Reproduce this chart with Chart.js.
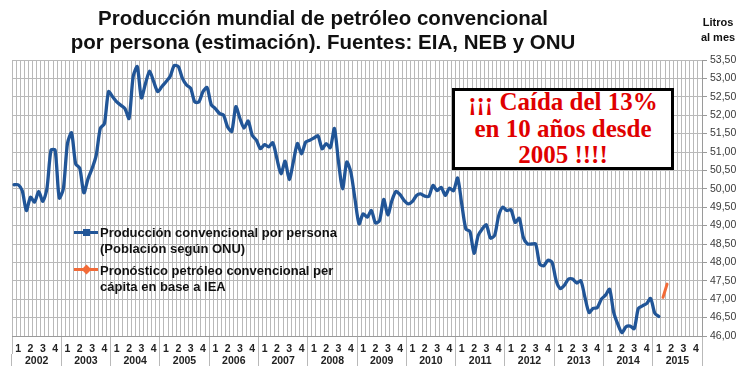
<!DOCTYPE html>
<html>
<head>
<meta charset="utf-8">
<script src="https://cdn.jsdelivr.net/npm/chart.js@4.4.1/dist/chart.umd.min.js"></script>
<style>
  body { margin: 0; background: #fff; }
  #wrap { position: relative; width: 750px; height: 373px; font-family: 'Liberation Sans', Arial, sans-serif; }
  #c { position: absolute; left: 0; top: 0; }
  #title { position: absolute; left: 0; top: 6px; width: 646px; text-align: center; font-weight: bold; font-size: 20.5px; line-height: 24px; color: #111; }
  #unit { position: absolute; left: 690px; top: 15px; width: 56px; text-align: center; font-weight: bold; font-size: 11px; line-height: 15px; color: #111; }
  #note { position: absolute; left: 452px; top: 88px; width: 222px; height: 82px; box-sizing: border-box; border: 3px solid #000; background: #fff;
          display: flex; align-items: center; justify-content: center; text-align: center;
          font-family: 'Liberation Serif', 'Times New Roman', serif; font-weight: bold; font-size: 25px; line-height: 26.5px; color: #e00000; }
  .lg { position: absolute; left: 100px; font-weight: bold; font-size: 13px; line-height: 15.6px; color: #111; white-space: nowrap; }
  .lgline { position: absolute; left: 74px; width: 24px; height: 3px; }
  .lgmark { position: absolute; width: 7px; height: 7px; }
</style>
</head>
<body>
<div id="wrap">
  <canvas id="c" width="750" height="373"></canvas>
  <div id="title">Producción mundial de petróleo convencional<br>por persona (estimación). Fuentes: EIA, NEB y ONU</div>
  <div id="unit">Litros<br>al mes</div>
  <div id="note">¡¡¡ Caída del 13%<br>en 10 años desde<br>2005 !!!!</div>

  <div class="lgline" style="top:231px;background:#215597"></div>
  <div class="lgmark" style="left:83px;top:229px;background:#215597"></div>
  <div class="lg" style="top:225px">Producción convencional por persona<br>(Población según ONU)</div>

  <div class="lgline" style="top:268px;background:#f26b38"></div>
  <div class="lgmark" style="left:83px;top:266px;background:#f26b38;transform:rotate(45deg)"></div>
  <div class="lg" style="top:263px">Pronóstico petróleo convencional per<br>cápita en base a IEA</div>
</div>
<script>
// ejes
const YEARS = ['2002', '2003', '2004', '2005', '2006', '2007', '2008', '2009', '2010', '2011', '2012', '2013', '2014', '2015'];
const QUARTERS = ['1', '2', '3', '4'];
// una categoría por mes (ene 2002 .. dic 2015)
const MONTHS = YEARS.flatMap(y => ['01','02','03','04','05','06','07','08','09','10','11','12'].map(m => `${y}-${m}`));

// producción convencional por persona, litros/mes (ene 2002 .. feb 2015)
const PROD = [
  50.11, 50.11, 49.95, 49.41, 49.77, 49.64, 49.93, 49.66, 50.00, 51.05, 51.05, 49.75,  // 2002
  50.00, 51.23, 51.52, 50.68, 50.56, 49.89, 50.27, 50.55, 50.91, 51.64, 51.77, 52.64,  // 2003
  52.50, 52.36, 52.27, 52.18, 51.91, 53.05, 53.32, 52.47, 52.86, 53.20, 52.91, 52.64,  // 2004
  52.78, 52.91, 53.05, 53.35, 53.32, 53.00, 52.82, 52.73, 52.36, 52.36, 52.64, 52.75,  // 2005
  52.29, 52.18, 52.05, 52.00, 51.68, 51.56, 52.23, 51.91, 51.65, 51.84, 51.45, 51.32,  // 2006
  51.09, 51.20, 51.14, 51.25, 50.82, 50.41, 50.75, 50.25, 50.73, 51.23, 50.95, 51.27,  // 2007
  51.32, 51.38, 51.44, 51.09, 51.23, 51.12, 51.64, 50.73, 50.00, 50.73, 50.45, 49.73,  // 2008
  49.05, 49.32, 49.23, 49.41, 49.07, 49.14, 49.71, 49.29, 49.68, 49.93, 49.84, 49.68,  // 2009
  49.59, 49.66, 49.82, 49.86, 49.80, 49.80, 50.09, 49.95, 50.04, 49.82, 50.02, 49.95,  // 2010
  50.29, 49.59, 48.91, 48.84, 48.25, 48.73, 48.91, 49.02, 48.66, 48.73, 49.27, 49.50,  // 2011
  49.41, 49.43, 49.09, 49.20, 48.68, 48.50, 48.50, 48.50, 47.95, 47.91, 48.06, 48.00,  // 2012
  47.50, 47.29, 47.38, 47.55, 47.55, 47.44, 47.50, 47.05, 46.64, 46.75, 46.77, 47.00,  // 2013
  47.11, 47.27, 46.64, 46.32, 46.09, 46.25, 46.27, 46.20, 46.75, 46.82, 46.88, 47.02,  // 2014
  46.62, 46.53                                                                          // 2015
];

// pronóstico IEA
const FORECAST_MONTHS = ['2015-03', '2015-04'];
const FORECAST = [47.05, 47.41];

const FONT = "'Liberation Sans', Arial, sans-serif";
const GRID = '#b9b9b9';

new Chart(document.getElementById('c'), {
  type: 'line',
  data: {
    labels: MONTHS,
    datasets: [
      { data: PROD, borderColor: '#215597', borderWidth: 3.3, pointRadius: 0, tension: 0.25,
        borderJoinStyle: 'round', borderCapStyle: 'round' },
      { data: FORECAST_MONTHS.map((m, i) => ({ x: m, y: FORECAST[i] })), borderColor: '#f26b38', borderWidth: 3,
        pointRadius: 0, borderCapStyle: 'round' }
    ]
  },
  options: {
    responsive: false, animation: false,
    layout: { padding: { top: 60, left: 12, right: 0, bottom: 0 } },
    plugins: { legend: { display: false }, tooltip: { enabled: false } },
    scales: {
      x: {
        type: 'category', offset: true, weight: 0,
        grid: { offset: true, color: GRID, tickLength: 18,
                tickColor: c => (c.index === undefined || c.index % 12 === 0) ? GRID : 'rgba(0,0,0,0)' },
        border: { color: '#9a9a9a' },
        ticks: { autoSkip: false, maxRotation: 0, padding: -11, color: '#222', font: { family: FONT, size: 10.5, weight: 'bold' },
                 callback: (v, i) => i % 3 === 1 ? QUARTERS[Math.floor((i % 12) / 3)] : '' },
        afterFit: s => { s.height = 18; }
      },
      x2: {
        type: 'category', position: 'bottom', labels: YEARS, offset: true, weight: 1,
        grid: { offset: true, drawOnChartArea: false, tickLength: 12, color: GRID, tickColor: GRID },
        border: { display: false },
        ticks: { autoSkip: false, maxRotation: 0, padding: -11, color: '#222', font: { family: FONT, size: 10.5, weight: 'bold' } },
        afterFit: s => { s.height = 19; }
      },
      y: {
        position: 'right', min: 46, max: 53.5,
        grid: { color: GRID, tickLength: 5, tickColor: '#9a9a9a' },
        border: { color: '#9a9a9a' },
        ticks: { stepSize: 0.5, padding: 3, color: '#3a3a3a', font: { family: FONT, size: 10.5 },
                 callback: v => v.toFixed(2).replace('.', ',') },
        afterFit: s => { s.width = 48; }
      }
    }
  }
});
</script>
</body>
</html>
